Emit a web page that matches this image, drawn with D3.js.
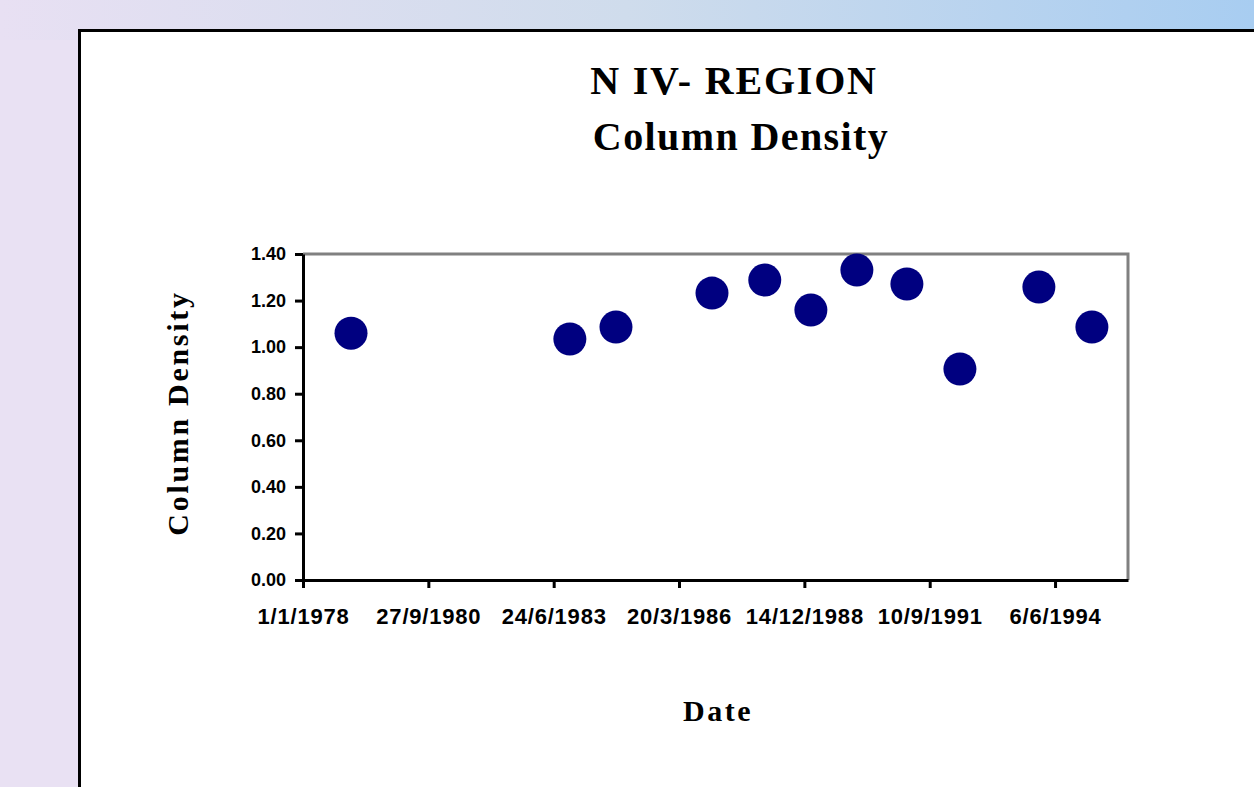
<!DOCTYPE html>
<html>
<head>
<meta charset="utf-8">
<script src="https://cdn.jsdelivr.net/npm/d3@7"></script>
<style>
  body { margin: 0; padding: 0; overflow: hidden; }
  svg { display: block; }
</style>
</head>
<body>
<script>
// data
var dates = ["19/1/1979", "31/10/1983", "2/11/1984", "8/12/1986", "2/2/1988", "4/2/1989",
             "6/2/1990", "12/3/1991", "8/5/1992", "28/1/1994", "27/3/1995"];
var values = [1.06, 1.035, 1.086, 1.232, 1.288, 1.159, 1.331, 1.271, 0.906, 1.258, 1.086];
var yTicks = [0, 0.2, 0.4, 0.6, 0.8, 1.0, 1.2, 1.4];
var xTickLabels = ["1/1/1978", "27/9/1980", "24/6/1983", "20/3/1986", "14/12/1988", "10/9/1991", "6/6/1994"];

var W = 1254, H = 787;
var parseDate = d3.timeParse("%d/%m/%Y");
var serif = "'Liberation Serif', 'Times New Roman', serif";

var svg = d3.select("body").append("svg")
    .attr("width", W)
    .attr("height", H);

// background gradient
var defs = svg.append("defs");
var grad = defs.append("linearGradient").attr("id", "bg")
    .attr("x1", "0%").attr("y1", "0%").attr("x2", "100%").attr("y2", "0%");
grad.append("stop").attr("offset", "0%").attr("stop-color", "#e8e0f3");
grad.append("stop").attr("offset", "50%").attr("stop-color", "#cfdcec");
grad.append("stop").attr("offset", "100%").attr("stop-color", "#a8cdf1");
svg.append("rect").attr("width", W).attr("height", H).attr("fill", "url(#bg)");
svg.append("rect").attr("x", 0).attr("y", 40).attr("width", 80).attr("height", H - 40)
    .attr("fill", "#e9e1f3");

// white panel with black frame
svg.append("rect")
    .attr("x", 79.5).attr("y", 30.5)
    .attr("width", W).attr("height", H)
    .attr("fill", "#fff")
    .attr("stroke", "#000")
    .attr("stroke-width", 3);

// titles
svg.append("text").attr("x", 734).attr("y", 94)
    .attr("text-anchor", "middle")
    .style("font-family", serif)
    .style("font-weight", "bold").style("font-size", "40px")
    .style("letter-spacing", "1.8px")
    .text("N IV- REGION");
svg.append("text").attr("x", 741).attr("y", 150)
    .attr("text-anchor", "middle")
    .style("font-family", serif)
    .style("font-weight", "bold").style("font-size", "40px")
    .style("letter-spacing", "1.4px")
    .text("Column Density");

// plot area
var margin = {left: 303, top: 254, right: 1128, bottom: 580};

var x = d3.scaleTime()
    .domain([parseDate("1/1/1978"), d3.timeDay.offset(parseDate("1/1/1978"), 6582)])
    .range([margin.left, margin.right]);
var y = d3.scaleLinear().domain([0, 1.4]).range([margin.bottom, margin.top]);

var xTicks = xTickLabels.map(parseDate);

// gray top/right border
svg.append("path")
    .attr("d", "M" + margin.left + "," + margin.top + "H" + margin.right + "V" + margin.bottom)
    .attr("fill", "none").attr("stroke", "#808080").attr("stroke-width", 3);

// Y axis
var yAxis = svg.append("g")
    .attr("transform", "translate(" + margin.left + ",0)")
    .call(d3.axisLeft(y).tickValues(yTicks).tickFormat(d3.format(".2f"))
        .tickSize(8).tickSizeOuter(0).tickPadding(9));

// X axis
var xAxis = svg.append("g")
    .attr("transform", "translate(0," + margin.bottom + ")")
    .call(d3.axisBottom(x).tickValues(xTicks)
        .tickFormat(function(d, i) { return xTickLabels[i]; })
        .tickSize(8).tickSizeOuter(0).tickPadding(20));

[yAxis, xAxis].forEach(function(a) {
    a.select(".domain").attr("stroke", "#000").attr("stroke-width", 3);
    a.selectAll(".tick line").attr("stroke", "#000").attr("stroke-width", 3);
    a.selectAll(".tick text")
        .attr("fill", "#000")
        .style("font-family", "'Liberation Sans', Arial, sans-serif")
        .style("font-weight", "bold");
});
yAxis.selectAll(".tick text").style("font-size", "18px");
xAxis.selectAll(".tick text").style("font-size", "22px").style("letter-spacing", "0.8px");

// axis titles
svg.append("text")
    .attr("transform", "translate(188,413) rotate(-90)")
    .attr("text-anchor", "middle")
    .style("font-family", serif)
    .style("font-weight", "bold").style("font-size", "30px")
    .style("letter-spacing", "2.7px")
    .text("Column Density");
svg.append("text").attr("x", 718).attr("y", 721)
    .attr("text-anchor", "middle")
    .style("font-family", serif)
    .style("font-weight", "bold").style("font-size", "30px")
    .style("letter-spacing", "2.5px")
    .text("Date");

// points
svg.append("g").selectAll("circle")
    .data(dates.map(function(d, i) { return {date: parseDate(d), value: values[i]}; }))
    .enter().append("circle")
    .attr("cx", function(d) { return x(d.date); })
    .attr("cy", function(d) { return y(d.value); })
    .attr("r", 16.5)
    .attr("fill", "#000080");
</script>
</body>
</html>
